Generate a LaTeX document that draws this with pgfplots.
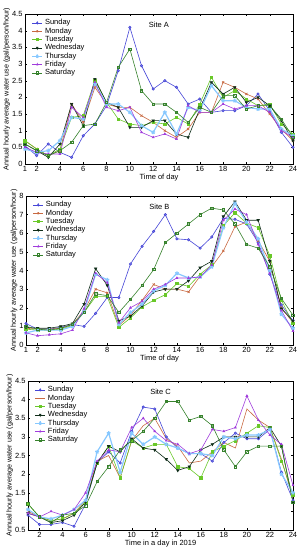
\documentclass[border=0pt]{standalone}
\usepackage{pgfplots}
\pgfplotsset{compat=1.18}
\usepackage{fontspec}
\setmainfont{Liberation Sans}
\definecolor{csun}{RGB}{70,70,215}
\definecolor{cmon}{RGB}{200,105,65}
\definecolor{ctue}{RGB}{105,200,40}
\definecolor{cwed}{RGB}{15,45,25}
\definecolor{cthu}{RGB}{135,200,255}
\definecolor{cfri}{RGB}{160,60,220}
\definecolor{csat}{RGB}{55,130,45}
\pgfplotsset{
  siteaxis/.style={
    scale only axis,
    xmin=1, xmax=24,
    font=\fontsize{7.5}{8.5}\selectfont,
    /pgf/number format/assume math mode=true,
    tick align=inside,
    major tick length=2pt,
    xtick pos=both, ytick pos=both,
    tick style={black, line width=0.3pt},
    axis line style={line width=0.4pt},
    ylabel={Annual hourly average water use (gal/person/hour)},
    ylabel style={yshift=-5pt, font=\fontsize{7.2}{8}\selectfont},
    xlabel style={yshift=5pt},
    xticklabel style={yshift=1pt},
    yticklabel style={xshift=1pt},
    legend style={draw=none, fill=none, at={(0.02,0.985)}, anchor=north west,
      font=\fontsize{7.5}{8.5}\selectfont, row sep=-2.6pt, inner sep=1pt},
    legend cell align=left,
    every axis plot/.append style={line width=0.6pt},
    legend image post style={xscale=0.6},
  },
  sun/.style={color=csun, mark=*, mark size=1.2pt, mark options={fill=csun!60}},
  mon/.style={color=cmon, mark=x, mark size=1.5pt},
  tue/.style={color=ctue, mark=square*, mark size=1.2pt},
  wed/.style={color=cwed, mark=triangle*, mark size=1.4pt, mark options={rotate=180}},
  thu/.style={color=cthu, line width=1.2pt, mark=star, mark size=2pt},
  fri/.style={color=cfri, mark=triangle*, mark size=1.1pt},
  sat/.style={color=csat, mark=square, mark size=1.2pt},
}
\begin{document}
\begin{tikzpicture}
\useasboundingbox (0,0) rectangle (300pt,-550pt);
% ---------- Site A ----------
\begin{axis}[siteaxis, at={(25pt,-14pt)}, anchor=north west,
  width=268pt, height=150pt,
  ymin=0, ymax=4.5, ytick={0,0.5,...,4.5},
  yticklabels={0,0.5,1,1.5,2,2.5,3,3.5,4,4.5},
  xtick={1,2,4,6,8,10,12,14,16,18,20,22,24},
  xlabel={Time of day}]
\node[font=\fontsize{7.5}{8.5}\selectfont] at (axis description cs:0.5,0.93) {Site A};
\addplot[sun] coordinates {(1,0.55)(2,0.25)(3,0.6)(4,0.35)(5,0.2)(6,0.85)(7,1.2)(8,1.75)(9,2.8)(10,4.1)(11,2.95)(12,2.25)(13,2.5)(14,2.3)(15,1.8)(16,1.95)(17,1.55)(18,1.6)(19,1.6)(20,1.75)(21,2.1)(22,1.6)(23,0.95)(24,0.5)};
\addplot[mon] coordinates {(1,0.7)(2,0.45)(3,0.25)(4,0.4)(5,1.8)(6,1.25)(7,2.3)(8,1.8)(9,1.7)(10,1.7)(11,1.45)(12,1.25)(13,1.0)(14,0.8)(15,1.05)(16,1.55)(17,1.55)(18,2.45)(19,2.3)(20,2.1)(21,1.95)(22,1.5)(23,1.05)(24,0.7)};
\addplot[tue] coordinates {(1,0.7)(2,0.45)(3,0.25)(4,0.45)(5,1.4)(6,1.45)(7,2.5)(8,1.85)(9,1.35)(10,1.2)(11,1.15)(12,1.25)(13,1.2)(14,1.4)(15,1.2)(16,1.8)(17,2.6)(18,2.0)(19,2.2)(20,1.95)(21,1.75)(22,1.8)(23,1.2)(24,0.9)};
\addplot[wed] coordinates {(1,0.6)(2,0.4)(3,0.2)(4,0.6)(5,1.8)(6,1.15)(7,2.55)(8,1.85)(9,1.7)(10,1.1)(11,1.1)(12,1.3)(13,1.3)(14,0.9)(15,0.8)(16,1.65)(17,2.45)(18,2.1)(19,2.3)(20,1.85)(21,2.0)(22,1.75)(23,1.3)(24,0.7)};
\addplot[thu] coordinates {(1,0.45)(2,0.35)(3,0.4)(4,0.7)(5,1.4)(6,1.35)(7,2.4)(8,1.8)(9,1.8)(10,1.55)(11,1.15)(12,0.95)(13,1.55)(14,0.9)(15,1.7)(16,1.6)(17,2.35)(18,1.9)(19,1.9)(20,1.7)(21,1.65)(22,1.65)(23,1.05)(24,0.85)};
\addplot[fri] coordinates {(1,0.5)(2,0.35)(3,0.3)(4,0.3)(5,1.7)(6,1.4)(7,2.45)(8,1.7)(9,1.6)(10,1.7)(11,0.95)(12,0.8)(13,0.9)(14,0.75)(15,1.75)(16,1.55)(17,1.55)(18,1.8)(19,1.65)(20,1.75)(21,1.75)(22,1.55)(23,1.0)(24,0.8)};
\addplot[sat] coordinates {(1,0.6)(2,0.4)(3,0.25)(4,0.4)(5,0.65)(6,1.15)(7,1.2)(8,1.85)(9,2.9)(10,3.45)(11,2.2)(12,1.8)(13,1.8)(14,1.55)(15,1.25)(16,1.7)(17,1.55)(18,2.05)(19,2.05)(20,1.65)(21,1.75)(22,1.75)(23,1.35)(24,0.8)};
\legend{Sunday,Monday,Tuesday,Wednesday,Thursday,Friday,Saturday}
\end{axis}
% ---------- Site B ----------
\begin{axis}[siteaxis, at={(26pt,-196pt)}, anchor=north west,
  width=267pt, height=149pt,
  ymin=0, ymax=8, ytick={0,1,...,8},
  xtick={1,2,4,6,8,10,12,14,16,18,20,22,24},
  xlabel={Time of day}]
\node[font=\fontsize{7.5}{8.5}\selectfont] at (axis description cs:0.5,0.93) {Site B};
\addplot[sun] coordinates {(1,1.15)(2,0.85)(3,0.85)(4,0.95)(5,1.1)(6,1.0)(7,1.7)(8,2.55)(9,2.55)(10,4.35)(11,5.3)(12,6.1)(13,7.0)(14,5.7)(15,5.65)(16,5.2)(17,5.8)(18,6.8)(19,6.75)(20,6.5)(21,5.5)(22,3.8)(23,2.15)(24,1.3)};
\addplot[mon] coordinates {(1,0.9)(2,0.85)(3,0.85)(4,0.9)(5,1.1)(6,1.85)(7,3.0)(8,2.8)(9,1.05)(10,1.6)(11,2.4)(12,3.25)(13,3.0)(14,3.0)(15,2.85)(16,3.7)(17,4.2)(18,5.05)(19,6.35)(20,6.6)(21,5.6)(22,4.5)(23,2.0)(24,1.2)};
\addplot[tue] coordinates {(1,0.85)(2,0.8)(3,0.8)(4,0.85)(5,1.05)(6,1.75)(7,2.6)(8,2.6)(9,0.95)(10,1.45)(11,2.05)(12,2.4)(13,2.7)(14,3.3)(15,3.15)(16,3.8)(17,4.3)(18,6.4)(19,7.1)(20,6.55)(21,6.3)(22,4.8)(23,2.4)(24,1.15)};
\addplot[wed] coordinates {(1,0.95)(2,0.9)(3,0.9)(4,1.0)(5,1.15)(6,2.2)(7,4.1)(8,3.2)(9,1.3)(10,1.55)(11,2.1)(12,2.85)(13,3.0)(14,3.0)(15,3.45)(16,4.15)(17,4.5)(18,6.9)(19,7.7)(20,6.7)(21,6.7)(22,4.5)(23,1.95)(24,1.3)};
\addplot[thu] coordinates {(1,0.65)(2,0.8)(3,0.8)(4,0.8)(5,1.0)(6,1.8)(7,3.8)(8,3.5)(9,1.1)(10,1.75)(11,2.2)(12,2.9)(13,3.2)(14,3.85)(15,3.6)(16,3.65)(17,4.2)(18,6.3)(19,7.6)(20,6.6)(21,5.7)(22,4.0)(23,1.65)(24,0.9)};
\addplot[fri] coordinates {(1,0.65)(2,0.5)(3,0.55)(4,0.6)(5,0.8)(6,1.95)(7,3.85)(8,3.35)(9,1.2)(10,2.0)(11,2.35)(12,3.0)(13,3.25)(14,3.6)(15,3.6)(16,3.65)(17,4.3)(18,6.7)(19,7.3)(20,7.0)(21,5.4)(22,3.85)(23,1.85)(24,0.75)};
\addplot[sat] coordinates {(1,1.0)(2,0.85)(3,0.8)(4,0.9)(5,1.1)(6,1.75)(7,2.75)(8,2.65)(9,1.75)(10,2.45)(11,3.2)(12,4.05)(13,5.5)(14,6.0)(15,6.5)(16,7.0)(17,7.35)(18,7.25)(19,6.5)(20,5.4)(21,5.2)(22,4.2)(23,2.5)(24,1.6)};
\legend{Sunday,Monday,Tuesday,Wednesday,Thursday,Friday,Saturday}
\end{axis}
% ---------- Site C ----------
\begin{axis}[siteaxis, at={(28pt,-381pt)}, anchor=north west,
  width=265pt, height=149pt,
  ymin=0.5, ymax=4.5, ytick={0.5,1,...,4.5},
  yticklabels={0.5,,1.5,2,2.5,3,3.5,4,4.5},
  xtick={2,4,6,8,10,12,14,16,18,20,22,24},
  xlabel={Time in a day in 2019}]
\node[font=\fontsize{7.5}{8.5}\selectfont] at (axis description cs:0.5,0.93) {Site C};
\addplot[sun] coordinates {(1,0.9)(2,0.65)(3,0.65)(4,0.7)(5,0.6)(6,1.2)(7,2.3)(8,2.6)(9,2.3)(10,3.15)(11,3.8)(12,3.75)(13,3.0)(14,2.7)(15,2.55)(16,2.55)(17,2.35)(18,2.85)(19,3.1)(20,2.95)(21,2.95)(22,3.2)(23,2.05)(24,1.3)};
\addplot[color=cmon] coordinates {(1,1.0)(2,0.85)(3,0.75)(4,0.8)(5,0.95)(6,1.3)(7,2.35)(8,2.5)(9,1.9)(10,2.9)(11,3.3)(12,3.5)(13,2.95)(14,2.75)(15,2.3)(16,2.35)(17,2.6)(18,2.85)(19,2.7)(20,3.75)(21,3.45)(22,3.25)(23,2.4)(24,1.35)};
\addplot[tue] coordinates {(1,1.2)(2,0.85)(3,0.75)(4,0.8)(5,0.95)(6,1.25)(7,2.3)(8,2.75)(9,1.9)(10,2.9)(11,2.7)(12,2.8)(13,2.8)(14,2.2)(15,2.15)(16,1.9)(17,2.6)(18,2.75)(19,2.9)(20,3.1)(21,3.3)(22,3.25)(23,2.35)(24,1.45)};
\addplot[wed] coordinates {(1,0.95)(2,0.85)(3,0.7)(4,0.75)(5,0.9)(6,1.25)(7,2.3)(8,2.75)(9,2.6)(10,2.95)(11,2.7)(12,2.65)(13,2.4)(14,2.1)(15,2.2)(16,2.65)(17,2.8)(18,3.0)(19,3.0)(20,3.0)(21,3.0)(22,3.25)(23,2.75)(24,1.25)};
\addplot[thu] coordinates {(1,1.05)(2,0.85)(3,0.8)(4,0.9)(5,1.05)(6,1.3)(7,2.6)(8,3.1)(9,2.05)(10,3.1)(11,2.8)(12,3.0)(13,2.8)(14,2.7)(15,2.55)(16,2.55)(17,2.5)(18,3.0)(19,2.95)(20,3.05)(21,3.05)(22,3.2)(23,2.0)(24,1.5)};
\addplot[fri] coordinates {(1,0.95)(2,0.85)(3,1.0)(4,0.9)(5,1.05)(6,1.5)(7,2.35)(8,2.65)(9,2.6)(10,3.25)(11,3.5)(12,3.15)(13,2.9)(14,2.8)(15,2.55)(16,2.65)(17,3.2)(18,3.15)(19,3.25)(20,4.1)(21,3.45)(22,3.05)(23,2.8)(24,1.7)};
\addplot[sat] coordinates {(1,1.2)(2,0.85)(3,0.7)(4,0.9)(5,0.95)(6,1.15)(7,1.8)(8,2.2)(9,2.65)(10,2.9)(11,3.15)(12,3.5)(13,3.95)(14,3.95)(15,3.45)(16,3.55)(17,3.3)(18,2.65)(19,2.2)(20,2.6)(21,2.75)(22,2.75)(23,2.75)(24,1.25)};
\legend{Sunday,Monday,Tuesday,Wednesday,Thursday,Friday,Saturday}
\end{axis}
\end{tikzpicture}
\end{document}
